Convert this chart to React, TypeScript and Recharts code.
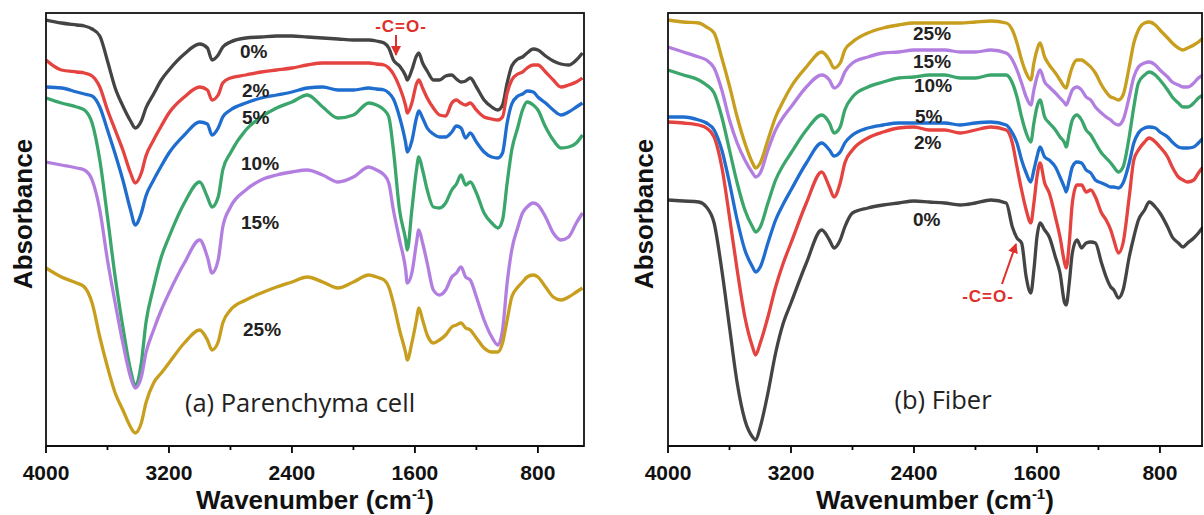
import React from 'react';
import { LineChart, Line, XAxis, YAxis } from 'recharts';

// ---------- Panel (a) Parenchyma cell ----------
const WN_A = [4000, 3900, 3800, 3750, 3700, 3650, 3600, 3550, 3500, 3450,
  3420, 3380, 3350, 3300, 3250, 3200, 3100, 3000, 2950, 2920,
  2880, 2850, 2800, 2700, 2600, 2500, 2400, 2300, 2200, 2100,
  2000, 1900, 1850, 1800, 1770, 1740, 1700, 1660, 1650, 1620,
  1590, 1575, 1550, 1520, 1480, 1440, 1400, 1360, 1330, 1300,
  1270, 1240, 1200, 1150, 1100, 1060, 1030, 1000, 970, 930,
  900, 870, 830, 800, 750, 700, 650, 600, 550, 510];

const A_0 = [426, 423, 421, 420, 417, 410, 385, 358, 340, 325,
  318, 325, 338, 352, 366, 376, 392, 402, 398, 386,
  391, 399, 404, 408, 409, 410, 410, 409, 408, 407,
  406, 406, 405, 403, 398, 386, 380, 370, 366, 376,
  390, 393, 383, 375, 366, 366, 370, 371, 367, 364,
  365, 368, 359, 346, 339, 336, 341, 363, 380, 387,
  389, 393, 397, 396, 390, 385, 382, 381, 386, 393];
const A_2 = [386, 376, 374, 373, 370, 359, 336, 316, 296, 273,
  263, 273, 290, 306, 320, 333, 349, 359, 356, 346,
  351, 363, 368, 371, 374, 376, 378, 381, 383, 383,
  383, 383, 382, 381, 378, 372, 359, 340, 333, 343,
  362, 366, 358, 348, 338, 331, 330, 343, 346, 343,
  341, 343, 336, 329, 327, 326, 329, 353, 366, 372,
  374, 378, 381, 381, 374, 366, 359, 361, 364, 368];
const A_5 = [359, 358, 354, 352, 350, 339, 316, 292, 266, 236,
  221, 233, 250, 266, 280, 293, 311, 324, 322, 311,
  318, 329, 336, 343, 348, 351, 354, 358, 359, 356,
  356, 358, 357, 356, 353, 347, 329, 303, 294, 305,
  328, 335, 328, 318, 312, 309, 309, 314, 320, 318,
  308, 313, 304, 294, 289, 288, 293, 323, 342, 350,
  352, 355, 354, 349, 343, 336, 331, 334, 339, 343];
const A_10 = [348, 343, 339, 336, 323, 286, 229, 169, 119, 76,
  61, 83, 123, 159, 189, 209, 243, 264, 249, 239,
  249, 276, 293, 316, 329, 338, 344, 351, 339, 328,
  331, 343, 341, 336, 329, 296, 236, 206, 196, 236,
  276, 289, 276, 256, 239, 238, 243, 256, 262, 271,
  261, 264, 253, 233, 223, 218, 226, 263, 296, 319,
  336, 344, 341, 336, 319, 306, 298, 299, 303, 311];
const A_15 = [284, 281, 278, 276, 266, 236, 186, 143, 103, 69,
  58, 69, 93, 116, 136, 153, 183, 206, 189, 173,
  186, 219, 239, 256, 266, 271, 274, 276, 271, 264,
  269, 279, 276, 271, 263, 236, 206, 176, 163, 173,
  203, 216, 203, 183, 156, 151, 156, 169, 173, 179,
  169, 166, 149, 126, 109, 101, 116, 163, 196, 219,
  233, 239, 243, 241, 229, 213, 206, 209, 223, 233];
const A_25 = [178, 169, 163, 159, 143, 109, 79, 53, 36, 19,
  13, 23, 43, 63, 73, 83, 103, 116, 106, 96,
  104, 123, 136, 146, 153, 159, 164, 169, 164, 158,
  164, 171, 169, 166, 159, 143, 116, 93, 86, 103,
  126, 138, 126, 111, 103, 106, 111, 119, 121, 123,
  118, 116, 108, 98, 94, 94, 103, 126, 149, 159,
  164, 169, 171, 169, 159, 149, 146, 149, 154, 158];

// ---------- Panel (b) Fiber ----------
const WN_B = [4000, 3900, 3800, 3750, 3700, 3650, 3600, 3550, 3500, 3450,
  3430, 3400, 3350, 3300, 3250, 3200, 3100, 3000, 2950, 2920,
  2880, 2850, 2800, 2700, 2600, 2500, 2400, 2300, 2200, 2100,
  2000, 1900, 1800, 1760, 1730, 1700, 1670, 1640, 1620, 1600,
  1580, 1550, 1520, 1480, 1450, 1420, 1410, 1390, 1370, 1340,
  1310, 1280, 1250, 1220, 1180, 1150, 1120, 1100, 1070, 1040,
  1000, 970, 940, 900, 870, 830, 800, 750, 720, 680,
  650, 620, 580, 550, 520];

const B_0 = [246, 245, 244, 239, 223, 176, 119, 63, 26, 9,
  6, 19, 53, 93, 123, 143, 183, 216, 206, 198,
  206, 219, 233, 238, 241, 243, 245, 244, 243, 241,
  243, 246, 243, 219, 208, 203, 169, 153, 176, 209,
  223, 216, 209, 189, 173, 143, 141, 163, 193, 206,
  198, 203, 204, 203, 183, 169, 159, 156, 148, 156,
  189, 209, 226, 236, 244, 239, 233, 219, 209, 203,
  199, 203, 208, 213, 219];
const B_2 = [324, 323, 321, 318, 309, 279, 229, 176, 129, 99,
  91, 103, 129, 159, 183, 203, 243, 274, 259, 249,
  263, 283, 296, 308, 314, 318, 319, 316, 316, 313,
  316, 319, 316, 303, 279, 256, 236, 223, 243, 269,
  283, 263, 253, 229, 209, 183, 178, 203, 243, 261,
  261, 254, 256, 249, 233, 226, 216, 206, 193, 203,
  249, 286, 296, 304, 308, 304, 299, 289, 279, 269,
  266, 264, 266, 273, 279];
const B_5 = [329, 329, 326, 323, 316, 296, 263, 226, 196, 179,
  174, 179, 203, 226, 242, 256, 283, 303, 296, 290,
  294, 303, 311, 318, 321, 323, 323, 323, 323, 321,
  323, 324, 321, 313, 303, 286, 273, 264, 276, 289,
  299, 289, 286, 279, 269, 258, 254, 266, 279, 284,
  283, 276, 273, 266, 263, 261, 259, 259, 258, 263,
  283, 303, 313, 318, 319, 318, 314, 309, 304, 299,
  298, 298, 299, 303, 308];
const B_10 = [376, 371, 366, 361, 353, 329, 296, 263, 236, 219,
  214, 219, 243, 266, 281, 293, 316, 331, 323, 313,
  319, 336, 349, 359, 364, 368, 369, 371, 371, 368,
  368, 371, 371, 363, 349, 329, 313, 304, 323, 339,
  346, 329, 323, 316, 309, 303, 299, 313, 326, 331,
  326, 316, 311, 303, 293, 288, 283, 279, 274, 279,
  309, 339, 363, 371, 374, 371, 366, 356, 349, 343,
  339, 339, 343, 348, 351];
const B_15 = [399, 394, 389, 386, 378, 356, 326, 303, 286, 273,
  269, 273, 296, 316, 329, 339, 359, 371, 366, 358,
  363, 374, 383, 389, 393, 394, 396, 396, 396, 394,
  394, 396, 393, 386, 376, 363, 349, 341, 356, 369,
  376, 364, 359, 353, 348, 343, 341, 348, 356, 359,
  356, 349, 346, 339, 333, 329, 326, 323, 321, 326,
  349, 369, 379, 383, 384, 381, 376, 369, 364, 361,
  359, 359, 363, 368, 371];
const B_25 = [426, 424, 423, 419, 413, 388, 360, 329, 303, 283,
  278, 283, 306, 329, 345, 359, 379, 394, 386, 378,
  383, 396, 404, 413, 418, 421, 423, 423, 423, 423,
  424, 425, 423, 416, 403, 386, 373, 366, 383, 396,
  403, 389, 381, 373, 366, 359, 358, 369, 379, 386,
  386, 383, 379, 373, 361, 354, 349, 348, 346, 351,
  379, 403, 416, 423, 424, 421, 416, 408, 403, 398,
  396, 398, 401, 404, 408];

const SERIES_KEYS = ['p0', 'p2', 'p5', 'p10', 'p15', 'p25'];
const SERIES_LABELS = ['0%', '2%', '5%', '10%', '15%', '25%'];
const COLORS = ['#444444', '#e4433f', '#1f6dcf', '#3ba66c', '#b27fe0', '#c89e1e'];
const MAJOR_TICKS = [4000, 3200, 2400, 1600, 800];
const ALL_TICKS = [4000, 3600, 3200, 2800, 2400, 2000, 1600, 1200, 800];

const buildRows = (wn: number[], vals: number[][]) =>
  wn.map((w, i) => {
    const r: Record<string, number> = { wn: w };
    SERIES_KEYS.forEach((k, j) => { r[k] = vals[j][i]; });
    return r;
  });

const DATA_A = buildRows(WN_A, [A_0, A_2, A_5, A_10, A_15, A_25]);
const DATA_B = buildRows(WN_B, [B_0, B_2, B_5, B_10, B_15, B_25]);

const BOLD = '"Liberation Sans", Arial, sans-serif';

const AxisTick = (props: any) => {
  const { x, y, payload } = props;
  const major = MAJOR_TICKS.includes(payload.value);
  return (
    <g>
      <line x1={x} x2={x} y1={y} y2={y + (major ? 7 : 4)} stroke="#000" strokeWidth={1.8} />
      {major && (
        <text x={x} y={y + 34} textAnchor="middle" fontFamily={BOLD} fontWeight="bold" fontSize={21} fill="#111">
          {payload.value}
        </text>
      )}
    </g>
  );
};

const Panel = ({ data, left, width, marginLeft, marginRight, xmin }: any) => (
  <div style={{ position: 'absolute', left, top: 0 }}>
    <LineChart width={width} height={515} data={data} margin={{ top: 13, right: marginRight, bottom: 0, left: marginLeft }}>
      <XAxis dataKey="wn" type="number" domain={[xmin, 4000]} reversed ticks={ALL_TICKS} interval={0}
        tickLine={false} tickSize={0} tickMargin={0} height={69} tick={<AxisTick />}
        axisLine={{ stroke: '#000', strokeWidth: 2 }} allowDataOverflow />
      <YAxis type="number" domain={[0, 433]} hide allowDataOverflow />
      {SERIES_KEYS.map((k, i) => (
        <Line key={k} dataKey={k} type="monotone" stroke={COLORS[i]} strokeWidth={3.3} dot={false} isAnimationActive={false} />
      ))}
    </LineChart>
  </div>
);

// label order top->bottom in each panel follows SERIES_LABELS index
const LABEL_POS_A = [[240, 58], [242, 97], [242, 124], [241, 170], [241, 229], [243, 336]];
const LABEL_POS_B = [[913, 226], [914, 149], [915, 123], [914, 92], [913, 68], [913, 40]];

export default function App() {
  return (
    <div style={{ position: 'absolute', left: 0, top: 0, width: 1204, height: 515, background: '#fff', overflow: 'hidden' }}>
      <Panel data={DATA_A} left={0} width={604} marginLeft={46} marginRight={20} xmin={500} />
      <Panel data={DATA_B} left={604} width={600} marginLeft={64} marginRight={1} xmin={520} />
      <svg width={1204} height={515} style={{ position: 'absolute', left: 0, top: 0, pointerEvents: 'none' }}>
        <defs>
          <marker id="arr" viewBox="0 0 10 10" refX="9" refY="5" markerWidth="5" markerHeight="5" orient="auto">
            <path d="M0,0 L10,5 L0,10 z" fill="#e0302b" />
          </marker>
        </defs>
        <rect x={46} y={13} width={538} height={433} fill="none" stroke="#111" strokeWidth={1.8} />
        <rect x={668} y={13} width={534} height={433} fill="none" stroke="#111" strokeWidth={1.8} />
        {SERIES_LABELS.map((t, i) => (
          <text key={'a' + t} x={LABEL_POS_A[i][0]} y={LABEL_POS_A[i][1]} fontFamily={BOLD} fontWeight="bold" fontSize={19} fill="#222">{t}</text>
        ))}
        {SERIES_LABELS.map((t, i) => (
          <text key={'b' + t} x={LABEL_POS_B[i][0]} y={LABEL_POS_B[i][1]} fontFamily={BOLD} fontWeight="bold" fontSize={19} fill="#222">{t}</text>
        ))}
        <text x={300} y={412} textAnchor="middle" fontFamily='"Open Sans", sans-serif' fontSize={25.5} fill="#222">(a) Parenchyma cell</text>
        <text x={943} y={409} textAnchor="middle" fontFamily='"Open Sans", sans-serif' fontSize={25.5} fill="#222">(b) Fiber</text>
        <text x={401} y={32} textAnchor="middle" fontFamily={BOLD} fontWeight="bold" fontSize={17} letterSpacing={1} fill="#e0302b">-C=O-</text>
        <line x1={396} y1={35} x2={396} y2={55} stroke="#e0302b" strokeWidth={2} markerEnd="url(#arr)" />
        <text x={988} y={302} textAnchor="middle" fontFamily={BOLD} fontWeight="bold" fontSize={17} letterSpacing={1} fill="#e0302b">-C=O-</text>
        <line x1={1002} y1={284} x2={1016} y2={244} stroke="#e0302b" strokeWidth={2} markerEnd="url(#arr)" />
        <text transform="translate(32,214) rotate(-90)" textAnchor="middle" fontFamily={BOLD} fontWeight="bold" fontSize={26} fill="#111">Absorbance</text>
        <text transform="translate(653,214) rotate(-90)" textAnchor="middle" fontFamily={BOLD} fontWeight="bold" fontSize={26} fill="#111">Absorbance</text>
        <text x={315} y={509} textAnchor="middle" fontFamily={BOLD} fontWeight="bold" fontSize={26} fill="#111">
          Wavenumber (cm<tspan dy={-10} fontSize={15}>-1</tspan><tspan dy={10}>)</tspan>
        </text>
        <text x={935} y={509} textAnchor="middle" fontFamily={BOLD} fontWeight="bold" fontSize={26} fill="#111">
          Wavenumber (cm<tspan dy={-10} fontSize={15}>-1</tspan><tspan dy={10}>)</tspan>
        </text>
      </svg>
    </div>
  );
}
